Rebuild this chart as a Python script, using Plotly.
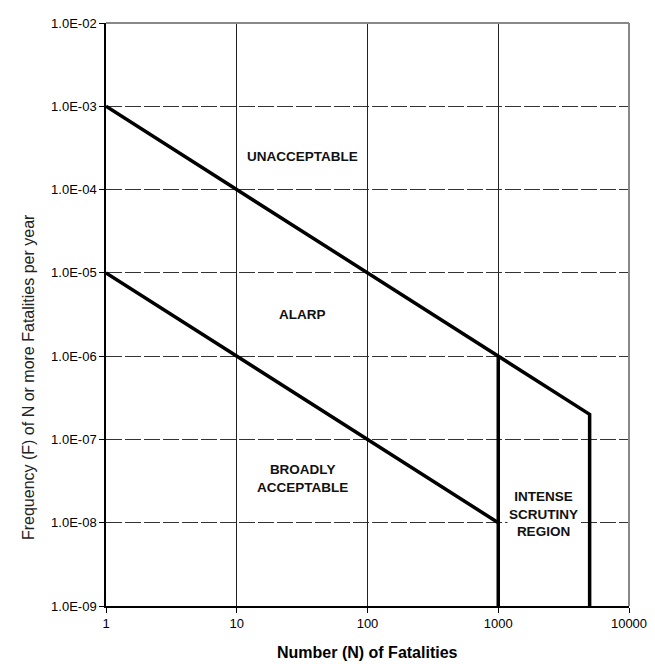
import math
import plotly.graph_objects as go

# Criterion lines (N, F)
upper_n = [1, 1000, 5000, 5000]
upper_f = [1e-3, 1e-6, 2e-7, 1e-9]
lower_n = [1, 1000, 1000]
lower_f = [1e-5, 1e-8, 1e-9]
mid_n = [1000, 1000]
mid_f = [1e-6, 1e-8]

x_ticks = [1, 10, 100, 1000, 10000]
x_tick_text = ["1", "10", "100", "1000", "10000"]
y_ticks = [1e-9, 1e-8, 1e-7, 1e-6, 1e-5, 1e-4, 1e-3, 1e-2]
y_tick_text = ["1.0E-09", "1.0E-08", "1.0E-07", "1.0E-06", "1.0E-05", "1.0E-04", "1.0E-03", "1.0E-02"]

region_labels = ["<b>UNACCEPTABLE</b>", "<b>ALARP</b>", "<b>BROADLY<br>ACCEPTABLE</b>", "<b>INTENSE<br>SCRUTINY<br>REGION</b>"]
region_n = [32, 32, 32, 2220]
region_f = [2.47e-4, 3.16e-6, 3.4e-8, 1.29e-8]

FONT = "Liberation Sans, Arial, sans-serif"

fig = go.Figure()
for xs, ys in [(upper_n, upper_f), (lower_n, lower_f), (mid_n, mid_f)]:
    fig.add_trace(go.Scatter(x=xs, y=ys, mode="lines",
                             line=dict(color="black", width=3.5),
                             showlegend=False, hoverinfo="skip"))

for txt, xv, yv in zip(region_labels, region_n, region_f):
    kw = dict(bgcolor="white") if "INTENSE" in txt else {}
    fig.add_annotation(x=math.log10(xv), y=math.log10(yv), xref="x", yref="y", text=txt,
                       showarrow=False, font=dict(family=FONT, size=13.5, color="#111"),
                       xanchor="center", yanchor="middle", **kw)

fig.update_xaxes(type="log", range=[0, 4], tickvals=x_ticks, ticktext=x_tick_text,
                 showgrid=True, gridcolor="#222", gridwidth=1,
                 showline=True, linecolor="black", linewidth=1.5,
                 ticks="outside", ticklen=5, tickcolor="black",
                 tickfont=dict(family=FONT, size=13, color="black"), zeroline=False)
fig.update_yaxes(type="log", range=[-9, -2], tickvals=y_ticks, ticktext=y_tick_text,
                 showgrid=True, gridcolor="#333", gridwidth=1, griddash="16px,3px",
                 showline=True, linecolor="black", linewidth=1.5,
                 ticks="outside", ticklen=5, tickcolor="black",
                 tickfont=dict(family=FONT, size=13, color="black"), zeroline=False)

# top and right border
fig.add_shape(type="line", xref="paper", yref="paper", x0=0, x1=1, y0=1, y1=1,
              line=dict(color="#888", width=2))
fig.add_shape(type="line", xref="paper", yref="paper", x0=1, x1=1, y0=0, y1=1,
              line=dict(color="#888", width=2))

fig.add_annotation(xref="paper", yref="paper", x=0.5, y=-0.08, yanchor="middle",
                   text="<b>Number (N) of Fatalities</b>", showarrow=False,
                   font=dict(family=FONT, size=16, color="black"))
fig.add_annotation(xref="paper", yref="paper", x=-0.148, y=0.392, xanchor="center", yanchor="middle",
                   textangle=-90, text="Frequency (F) of N or more Fatalities per year",
                   showarrow=False, font=dict(family=FONT, size=16, color="#222"))

fig.update_layout(width=647, height=656, margin=dict(l=98, r=22, t=8, b=58),
                  plot_bgcolor="white", paper_bgcolor="white", showlegend=False)

fig.write_html("out.html")
